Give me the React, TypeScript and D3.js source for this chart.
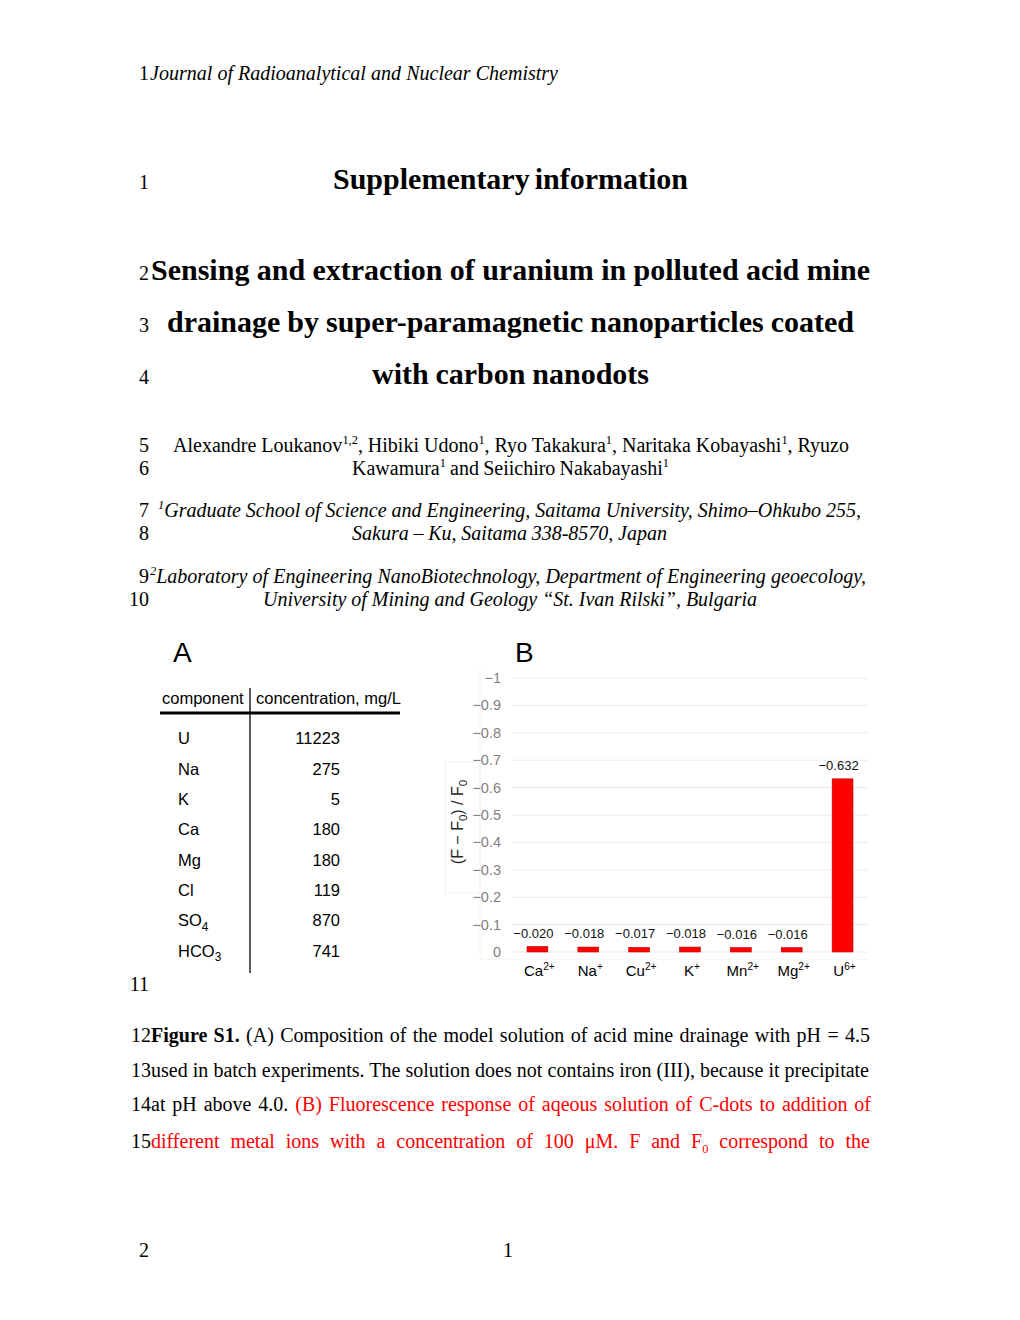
import { useEffect, useRef } from "react";
import * as d3 from "d3";

// ---- panel B data ----
const ions = ["Ca", "Na", "Cu", "K", "Mn", "Mg", "U"];
const charges = ["2+", "+", "2+", "+", "2+", "2+", "6+"];
const responses = [-0.02, -0.018, -0.017, -0.018, -0.016, -0.016, -0.632];
const yTicks = [0, -0.1, -0.2, -0.3, -0.4, -0.5, -0.6, -0.7, -0.8, -0.9, -1];

// ---- panel A data ----
const components = ["U", "Na", "K", "Ca", "Mg", "Cl", "SO", "HCO"];
const componentSubs = ["", "", "", "", "", "", "4", "3"];
const concentrations = [11223, 275, 5, 180, 180, 119, 870, 741];

const SERIF = "'Liberation Serif', 'Times New Roman', serif";
const SANS = "'Liberation Sans', Arial, sans-serif";
const RED = "#ff0000";

type Run = { t: string; b?: boolean; i?: boolean; sup?: boolean; sub?: boolean; fill?: string };

function addText(parent: any, x: number, y: number, runs: Run[], size: number, opts: any = {}) {
  const t = parent.append("text")
    .attr("x", x)
    .attr("y", y)
    .attr("font-family", opts.family || SERIF)
    .attr("font-size", size)
    .attr("fill", opts.fill || "#000");
  if (opts.anchor) t.attr("text-anchor", opts.anchor);
  if (opts.transform) t.attr("transform", opts.transform);
  const scale = opts.scriptScale || 0.62;
  let shift = 0;
  runs.forEach(r => {
    const target = r.sup ? -size * 0.38 : r.sub ? size * 0.25 : 0;
    const s = t.append("tspan").text(r.t);
    if (target - shift !== 0) s.attr("dy", target - shift);
    shift = target;
    if (r.sup || r.sub) s.attr("font-size", size * scale);
    if (r.b) s.attr("font-weight", "bold");
    if (r.i) s.attr("font-style", "italic");
    if (r.fill) s.attr("fill", r.fill);
  });
  // stretch word gaps so the line spans the given width (justified text)
  if (opts.width) {
    const node = t.node();
    const w = node.getComputedTextLength();
    const spaces = (node.textContent.match(/ /g) || []).length;
    if (spaces > 0) t.attr("word-spacing", (opts.width - w) / spaces);
  }
  return t;
}

function lineNo(parent: any, n: string, y: number) {
  addText(parent, 149, y, [{ t: n }], 20, { anchor: "end" });
}

export default function App() {
  const svgRef = useRef<SVGSVGElement>(null);

  useEffect(() => {
    const svg = d3.select(svgRef.current);
    svg.selectAll("*").remove();
    svg.append("rect").attr("width", 1020).attr("height", 1320).attr("fill", "#fff");

    // ---------- document text ----------
    lineNo(svg, "1", 80);
    addText(svg, 150, 80, [{ t: "Journal of Radioanalytical and Nuclear Chemistry", i: true }], 20, { width: 408 });

    lineNo(svg, "1", 189);
    addText(svg, 333, 189, [{ t: "Supplementary information", b: true }], 30, { width: 355 });

    lineNo(svg, "2", 280);
    addText(svg, 151, 280, [{ t: "Sensing and extraction of uranium in polluted acid mine", b: true }], 30, { width: 719 });
    lineNo(svg, "3", 332);
    addText(svg, 167, 332, [{ t: "drainage by super-paramagnetic nanoparticles coated", b: true }], 30, { width: 687 });
    lineNo(svg, "4", 384);
    addText(svg, 372, 384, [{ t: "with carbon nanodots", b: true }], 30, { width: 277 });

    lineNo(svg, "5", 452);
    addText(svg, 173, 452, [
      { t: "Alexandre Loukanov" }, { t: "1,2", sup: true }, { t: ", Hibiki Udono" }, { t: "1", sup: true },
      { t: ", Ryo Takakura" }, { t: "1", sup: true }, { t: ", Naritaka Kobayashi" }, { t: "1", sup: true },
      { t: ", Ryuzo" },
    ], 20, { width: 676 });
    lineNo(svg, "6", 475);
    addText(svg, 352, 475, [
      { t: "Kawamura" }, { t: "1", sup: true }, { t: " and Seiichiro Nakabayashi" }, { t: "1", sup: true },
    ], 20, { width: 317 });

    lineNo(svg, "7", 517);
    addText(svg, 158, 517, [
      { t: "1", sup: true, i: true },
      { t: "Graduate School of Science and Engineering, Saitama University, Shimo–Ohkubo 255,", i: true },
    ], 20, { width: 703 });
    lineNo(svg, "8", 540);
    addText(svg, 352, 540, [{ t: "Sakura – Ku, Saitama 338-8570, Japan", i: true }], 20, { width: 315 });

    lineNo(svg, "9", 583);
    addText(svg, 150, 583, [
      { t: "2", sup: true, i: true },
      { t: "Laboratory of Engineering NanoBiotechnology, Department of Engineering geoecology,", i: true },
    ], 20, { width: 716 });
    lineNo(svg, "10", 606);
    addText(svg, 263, 606, [{ t: "University of Mining and Geology “St. Ivan Rilski”, Bulgaria", i: true }], 20, { width: 494 });

    lineNo(svg, "11", 991);

    // caption
    addText(svg, 131, 1042, [
      { t: "12" }, { t: "Figure S1.", b: true },
      { t: " (A) Composition of the model solution of acid mine drainage with pH = 4.5" },
    ], 20, { width: 739 });
    addText(svg, 131, 1077, [
      { t: "13used in batch experiments. The solution does not contains iron (III), because it precipitate" },
    ], 20, { width: 738 });
    addText(svg, 131, 1111, [
      { t: "14at pH above 4.0. " },
      { t: "(B) Fluorescence response of aqeous solution of C-dots to addition of", fill: RED },
    ], 20, { width: 740 });
    addText(svg, 131, 1148, [
      { t: "15" },
      { t: "different metal ions with a concentration of 100 μM. F and F", fill: RED },
      { t: "0", sub: true, fill: RED },
      { t: " correspond to the", fill: RED },
    ], 20, { width: 739 });

    lineNo(svg, "2", 1257);
    addText(svg, 503, 1257, [{ t: "1" }], 20);

    // ---------- panel A: table ----------
    const gA = svg.append("g");
    addText(gA, 173, 662, [{ t: "A" }], 28, { family: SANS });
    addText(gA, 162, 704, [{ t: "component" }], 16.5, { family: SANS });
    addText(gA, 256, 704, [{ t: "concentration, mg/L" }], 16.5, { family: SANS });
    gA.append("line").attr("x1", 160).attr("x2", 400).attr("y1", 713).attr("y2", 713)
      .attr("stroke", "#000").attr("stroke-width", 3);
    gA.append("line").attr("x1", 250).attr("x2", 250).attr("y1", 688).attr("y2", 973)
      .attr("stroke", "#000").attr("stroke-width", 1.3);

    const rowY = d3.scaleBand().domain(components).range([723, 966]);
    components.forEach((c, i) => {
      const yb = (rowY(c) as number) + rowY.bandwidth() / 2 + 6;
      const runs: Run[] = [{ t: c }];
      if (componentSubs[i]) runs.push({ t: componentSubs[i], sub: true });
      addText(gA, 178, yb, runs, 16.5, { family: SANS, scriptScale: 0.72 });
      addText(gA, 340, yb, [{ t: String(concentrations[i]) }], 16.5, { family: SANS, anchor: "end" });
    });

    // ---------- panel B: bar chart ----------
    const gB = svg.append("g");
    const x = d3.scaleBand().domain(ions).range([512, 868]).paddingInner(0.59).paddingOuter(0.295);
    const y = d3.scaleLinear().domain([0, -1]).range([952, 678]);
    const fmtTick = d3.format(".1~f");
    const fmtVal = d3.format(".3f");

    addText(gB, 515, 662, [{ t: "B" }], 28, { family: SANS });

    // faint panel frames
    gB.append("rect").attr("x", 445).attr("y", 762).attr("width", 35).attr("height", 131)
      .attr("fill", "none").attr("stroke", "#f2f2f2");
    gB.append("line").attr("x1", 480).attr("x2", 480).attr("y1", 668).attr("y2", 959).attr("stroke", "#f4f4f4");
    gB.append("line").attr("x1", 480).attr("x2", 870).attr("y1", 959).attr("y2", 959).attr("stroke", "#f4f4f4");

    gB.selectAll(".grid").data(yTicks).enter().append("line")
      .attr("class", "grid")
      .attr("x1", 512).attr("x2", 868)
      .attr("y1", d => y(d)).attr("y2", d => y(d))
      .attr("stroke", "#ebebeb").attr("stroke-width", 1);

    gB.selectAll(".tick-label").data(yTicks).enter().append("text")
      .attr("class", "tick-label")
      .attr("x", 501).attr("y", d => y(d) + 5)
      .attr("text-anchor", "end")
      .attr("font-family", SANS).attr("font-size", 14.5)
      .attr("fill", "#808080")
      .text(d => fmtTick(d));

    const data = ions.map((ion, i) => ({ ion, charge: charges[i], v: responses[i] }));

    gB.selectAll(".bar").data(data).enter().append("rect")
      .attr("class", "bar")
      .attr("x", d => x(d.ion) as number)
      .attr("y", d => y(d.v))
      .attr("width", x.bandwidth())
      .attr("height", d => y(0) - y(d.v))
      .attr("fill", RED)
      .attr("stroke", "#c00000").attr("stroke-width", 0.6);

    gB.selectAll(".val").data(data).enter().append("text")
      .attr("class", "val")
      .attr("x", d => (x(d.ion) as number) + x.bandwidth() / 2 - 4)
      .attr("y", d => y(d.v) - 9)
      .attr("text-anchor", "middle")
      .attr("font-family", SANS).attr("font-size", 13)
      .attr("fill", "#111")
      .text(d => fmtVal(d.v));

    data.forEach(d => {
      addText(gB, (x(d.ion) as number) + x.bandwidth() / 2 + 2, 976,
        [{ t: d.ion }, { t: d.charge, sup: true }], 15, { family: SANS, anchor: "middle", scriptScale: 0.68 });
    });

    addText(gB, 0, 0, [
      { t: "(F − F" }, { t: "0", sub: true }, { t: ") / F" }, { t: "0", sub: true },
    ], 16, { family: SANS, anchor: "middle", fill: "#262626", scriptScale: 0.72, transform: "translate(463,822) rotate(-90)" });
  }, []);

  return (
    <svg ref={svgRef} width={1020} height={1320}
      style={{ position: "absolute", left: 0, top: 0, display: "block" }} />
  );
}
